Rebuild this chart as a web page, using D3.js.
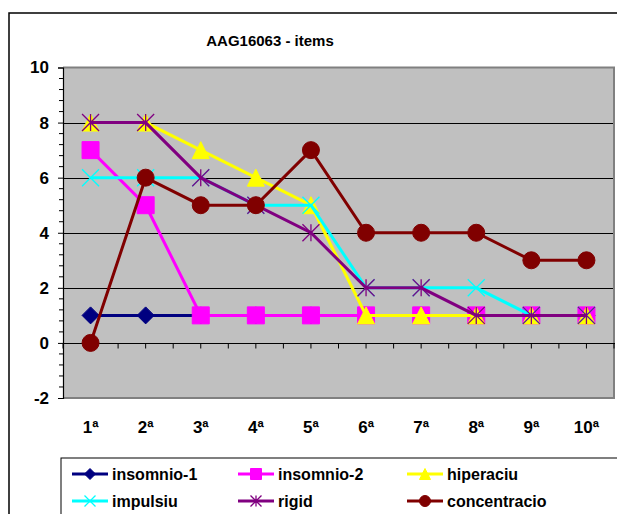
<!DOCTYPE html>
<html>
<head>
<meta charset="utf-8">
<script src="https://cdn.jsdelivr.net/npm/d3@7"></script>
<style>
  html, body { margin: 0; padding: 0; background: #fff; }
  svg { display: block; font-family: "Liberation Sans", Arial, sans-serif; }
</style>
</head>
<body>
<svg id="chart" width="617" height="514"></svg>
<script>
// Item scores per session
const categories = ["1ª", "2ª", "3ª", "4ª", "5ª", "6ª", "7ª", "8ª", "9ª", "10ª"];
const seriesNames = ["insomnio-1", "insomnio-2", "hiperaciu", "impulsiu", "rigid", "concentracio"];
const insomnio1 = [1, 1, 1, 1, 1, 1, 1, 1, 1, 1];
const insomnio2 = [7, 5, 1, 1, 1, 1, 1, 1, 1, 1];
const hiperaciu = [8, 8, 7, 6, 5, 1, 1, 1, 1, 1];
const impulsiu = [6, 6, 6, 5, 5, 2, 2, 2, 1, 1];
const rigid = [8, 8, 6, 5, 4, 2, 2, 1, 1, 1];
const concentracio = [0, 6, 5, 5, 7, 4, 4, 4, 3, 3];
const yTicks = [-2, 0, 2, 4, 6, 8, 10];
const yTickLabels = ["-2", "0", "2", "4", "6", "8", "10"];
const chartTitle = "AAG16063 - items";

const series = [
  { name: seriesNames[0], values: insomnio1, color: "#000080", marker: "diamond" },
  { name: seriesNames[1], values: insomnio2, color: "#FF00FF", marker: "square" },
  { name: seriesNames[2], values: hiperaciu, color: "#FFFF00", marker: "triangle" },
  { name: seriesNames[3], values: impulsiu, color: "#00FFFF", marker: "x" },
  { name: seriesNames[4], values: rigid, color: "#800080", marker: "star" },
  { name: seriesNames[5], values: concentracio, color: "#800000", marker: "circle" }
];

const svg = d3.select("#chart");
const plot = { left: 63, right: 614, top: 67.5, bottom: 398 };

const x = d3.scaleBand().domain(categories).range([plot.left, plot.right]).padding(0);
const y = d3.scaleLinear().domain([-2, 10]).range([plot.bottom, plot.top]);
const cx = c => x(c) + x.bandwidth() / 2;

// Outer chart frame
svg.append("rect")
  .attr("x", 9).attr("y", 13).attr("width", 640).attr("height", 540)
  .attr("fill", "#fff").attr("stroke", "#000").attr("stroke-width", 1.5);

// Title
svg.append("text")
  .attr("x", 270).attr("y", 46)
  .attr("text-anchor", "middle")
  .attr("font-size", 15).attr("font-weight", "bold")
  .text(chartTitle);

// Plot area
svg.append("rect")
  .attr("x", plot.left).attr("y", plot.top)
  .attr("width", plot.right - plot.left).attr("height", plot.bottom - plot.top)
  .attr("fill", "#C0C0C0");

// Horizontal gridlines
svg.append("g").selectAll("line")
  .data(yTicks.filter(v => v > -2 && v < 10 && v !== 0))
  .join("line")
  .attr("x1", plot.left).attr("x2", plot.right)
  .attr("y1", d => Math.round(y(d)) + 0.5).attr("y2", d => Math.round(y(d)) + 0.5)
  .attr("stroke", "#000").attr("stroke-width", 1);

// Plot area border (top, right, bottom in grey)
svg.append("path")
  .attr("d", `M${plot.left},${plot.top} H${plot.right} V${plot.bottom} H${plot.left}`)
  .attr("fill", "none").attr("stroke", "#808080").attr("stroke-width", 2);

// Y axis with minor ticks
const yAxis = d3.axisLeft(y)
  .tickValues(yTicks)
  .tickSize(5)
  .tickPadding(9)
  .tickFormat((d, i) => yTickLabels[i]);
const yAxisG = svg.append("g")
  .attr("transform", `translate(${plot.left},0)`)
  .call(yAxis);
yAxisG.select(".domain").attr("stroke", "#000").attr("stroke-width", 1.2);
yAxisG.selectAll(".tick line").attr("stroke", "#000");
yAxisG.selectAll(".tick text")
  .attr("font-size", 17).attr("font-weight", "bold").attr("fill", "#000")
  .attr("font-family", "Liberation Sans, Arial, sans-serif");

const minor = d3.range(-2, 10.001, 0.4).filter(v => Math.abs(v - Math.round(v / 2) * 2) > 0.01);
svg.append("g").selectAll("line")
  .data(minor)
  .join("line")
  .attr("x1", plot.left - 4).attr("x2", plot.left)
  .attr("y1", d => y(d)).attr("y2", d => y(d))
  .attr("stroke", "#000").attr("stroke-width", 1);

// Category axis crossing at zero
const xAxisY = Math.round(y(0)) + 0.5;
svg.append("line")
  .attr("x1", plot.left).attr("x2", plot.right + 1)
  .attr("y1", xAxisY).attr("y2", xAxisY)
  .attr("stroke", "#000").attr("stroke-width", 1);
const halfStep = x.bandwidth() / 2;
svg.append("g").selectAll("line")
  .data(d3.range(0, categories.length * 2 + 1))
  .join("line")
  .attr("x1", i => plot.left + i * halfStep).attr("x2", i => plot.left + i * halfStep)
  .attr("y1", xAxisY).attr("y2", xAxisY + 5)
  .attr("stroke", "#000").attr("stroke-width", 1);

// Category labels below the plot
svg.append("g").selectAll("text")
  .data(categories)
  .join("text")
  .attr("x", d => cx(d)).attr("y", 433)
  .attr("text-anchor", "middle")
  .attr("font-size", 17).attr("font-weight", "bold")
  .text(d => d);

// Marker shapes
function markerPath(type, r) {
  switch (type) {
    case "diamond": return `M0,${-r}L${r},0L0,${r}L${-r},0Z`;
    case "square": return `M${-r},${-r}H${r}V${r}H${-r}Z`;
    case "triangle": return `M0,${-r}L${r},${r}H${-r}Z`;
    case "circle": return `M${r},0A${r},${r} 0 1,1 ${-r},0A${r},${r} 0 1,1 ${r},0Z`;
    case "x": return `M${-r},${-r}L${r},${r}M${r},${-r}L${-r},${r}`;
    case "star": return `M${-r},${-r}L${r},${r}M${r},${-r}L${-r},${r}M0,${-r}V${r}`;
  }
}
function drawMarker(sel, s, r) {
  const open = s.marker === "x" || s.marker === "star";
  sel.attr("d", markerPath(s.marker, r))
    .attr("fill", open ? "none" : s.color)
    .attr("stroke", s.color)
    .attr("stroke-width", open ? 1.3 : 1);
}

const line = d3.line().x((d, i) => cx(categories[i])).y(d => y(d));

// Series lines and markers, drawn in series order
series.forEach(s => {
  const g = svg.append("g");
  g.append("path")
    .attr("d", line(s.values))
    .attr("fill", "none")
    .attr("stroke", s.color)
    .attr("stroke-width", 3);
  g.selectAll("path.mk")
    .data(s.values)
    .join("path")
    .attr("class", "mk")
    .attr("transform", (d, i) => `translate(${cx(categories[i])},${y(d)})`)
    .call(sel => drawMarker(sel, s, 8.5));
});

// Legend
const legend = svg.append("g");
legend.append("rect")
  .attr("x", 61).attr("y", 458).attr("width", 600).attr("height", 100)
  .attr("fill", "#fff").attr("stroke", "#000").attr("stroke-width", 1);
const colX = [72, 238, 407];
const rowY = [474, 501];
series.forEach((s, i) => {
  const lx = colX[i % 3], ly = rowY[Math.floor(i / 3)];
  const g = legend.append("g");
  g.append("line")
    .attr("x1", lx).attr("x2", lx + 36)
    .attr("y1", ly).attr("y2", ly)
    .attr("stroke", s.color).attr("stroke-width", 3);
  g.append("path")
    .attr("transform", `translate(${lx + 18},${ly})`)
    .call(sel => drawMarker(sel, s, 5.5));
  g.append("text")
    .attr("x", lx + 40).attr("y", ly + 6)
    .attr("font-size", 16).attr("font-weight", "bold")
    .text(s.name);
});
</script>
</body>
</html>
